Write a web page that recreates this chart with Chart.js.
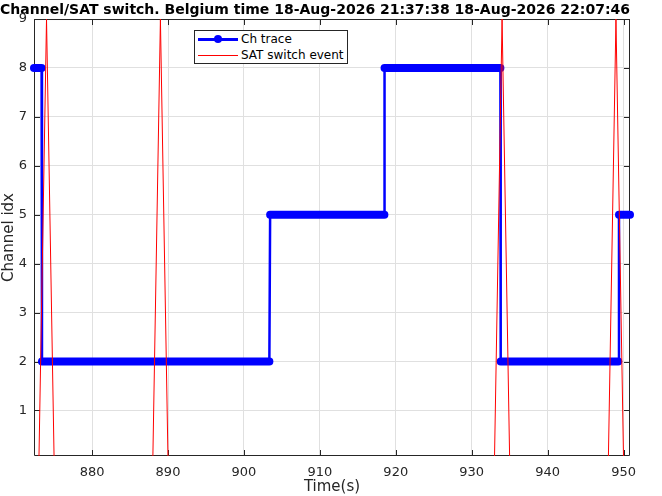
<!DOCTYPE html>
<html>
<head>
<meta charset="utf-8">
<script src="https://cdn.jsdelivr.net/npm/chart.js@4/dist/chart.umd.min.js"></script>
<style>
  body { margin: 0; background: #fff; }
  #wrap { position: relative; width: 662px; height: 496px; }
  #legend {
    position: absolute; left: 194px; top: 30px; width: 152px; height: 32px;
    border: 1px solid #262626; background: #fff;
    font: 12px "DejaVu Sans", sans-serif; color: #000;
  }
  #legend .row { position: absolute; left: 0; height: 16px; line-height: 16px; }
  #legend .row span.txt { position: absolute; left: 46px; white-space: nowrap; }
  #legend .ln { position: absolute; left: 3px; width: 40px; }
  #legend .dot { position: absolute; left: 19px; top: 4px; width: 8px; height: 8px; border-radius: 50%; background: #0000ff; }
</style>
</head>
<body>
<div id="wrap">
  <canvas id="c"></canvas>
  <div id="legend">
    <div class="row" style="top:0px">
      <div class="ln" style="top:7px;height:3px;background:#0000ff"></div>
      <div class="dot"></div>
      <span class="txt">Ch trace</span>
    </div>
    <div class="row" style="top:16px">
      <div class="ln" style="top:8px;height:1px;background:#ff0000"></div>
      <span class="txt">SAT switch event</span>
    </div>
  </div>
</div>
<script>
// channel trace (step corners) and SAT switch event samples
const chTime = [872.35, 873.35, 873.4, 903.35, 903.45, 918.5, 918.52, 933.78, 933.82, 949.3, 949.4, 950.85];
const chIdx  = [8, 8, 2, 2, 5, 5, 8, 8, 2, 2, 5, 5];
const satTime  = [873, 874, 875, 888, 889, 890, 933, 934, 935, 948, 949, 950];
const satLevel = [0, 9, 0, 0, 9, 0, 0, 9, 0, 0, 9, 0];
const xTicks = [880, 890, 900, 910, 920, 930, 940, 950];
const yTicks = [1, 2, 3, 4, 5, 6, 7, 8, 9];

const toXY = (xs, ys) => xs.map((x, i) => ({ x, y: ys[i] }));
const FONT = "'DejaVu Sans', sans-serif";

const axisBox = {
  id: "axisBox",
  beforeDatasetsDraw(chart) {
    const { ctx, chartArea: a, scales: { x, y } } = chart;
    ctx.save();
    ctx.strokeStyle = "#262626";
    ctx.lineWidth = 1;
    ctx.beginPath();
    ctx.rect(a.left + .5, a.top + .5, a.right - a.left - 1, a.bottom - a.top - 1);
    xTicks.forEach(v => {
      const px = Math.round(x.getPixelForValue(v)) + .5;
      ctx.moveTo(px, a.bottom); ctx.lineTo(px, a.bottom - 6);
      ctx.moveTo(px, a.top); ctx.lineTo(px, a.top + 6);
    });
    yTicks.forEach(v => {
      const py = Math.round(y.getPixelForValue(v)) + .5;
      ctx.moveTo(a.left, py); ctx.lineTo(a.left + 6, py);
      ctx.moveTo(a.right, py); ctx.lineTo(a.right - 6, py);
    });
    ctx.stroke();
    ctx.restore();
  }
};

new Chart(document.getElementById("c"), {
  type: "line",
  data: {
    datasets: [
      {
        label: "SAT switch event",
        data: toXY(satTime, satLevel),
        borderColor: "#ff0000",
        borderWidth: 1,
        pointRadius: 0,
        clip: 0,
        order: 0
      },
      {
        label: "Ch trace",
        data: toXY(chTime, chIdx),
        borderColor: "#0000ff",
        borderCapStyle: "round",
        pointRadius: 0,
        clip: false,
        order: 1,
        segment: {
          borderWidth: c => c.p0.parsed.y === c.p1.parsed.y ? 8 : 2.5
        }
      }
    ]
  },
  options: {
    responsive: true,
    maintainAspectRatio: false,
    animation: false,
    layout: { padding: { top: 0, right: 32, bottom: 0, left: 0 } },
    plugins: {
      legend: { display: false },
      tooltip: { enabled: false },
      title: {
        display: true,
        text: "Channel/SAT switch. Belgium time 18-Aug-2026 21:37:38 18-Aug-2026 22:07:46",
        color: "#000",
        font: { family: FONT, size: 14.6, weight: "bold" },
        padding: { top: 1, bottom: 0.5 }
      }
    },
    scales: {
      x: {
        type: "linear",
        min: 872.35,
        max: 950.85,
        afterFit: s => { s.height = 40; },
        ticks: {
          stepSize: 10, includeBounds: false, color: "#262626", padding: 9,
          font: { family: FONT, size: 13 }
        },
        grid: { color: "#e0e0e0", drawTicks: false },
        border: { display: false },
        title: {
          display: true, text: "Time(s)", color: "#262626",
          font: { family: FONT, size: 15 }, padding: { top: 0, bottom: 0 }
        }
      },
      y: {
        min: 0.07,
        max: 9,
        afterFit: s => { s.width = 34; },
        ticks: {
          stepSize: 1, includeBounds: false, color: "#262626", padding: 7,
          font: { family: FONT, size: 13 }
        },
        grid: { color: "#e0e0e0", drawTicks: false },
        border: { display: false },
        title: {
          display: true, text: "Channel idx", color: "#262626",
          font: { family: FONT, size: 15 }, padding: { top: 0, bottom: 0 }
        }
      }
    }
  },
  plugins: [axisBox]
});
</script>
</body>
</html>
